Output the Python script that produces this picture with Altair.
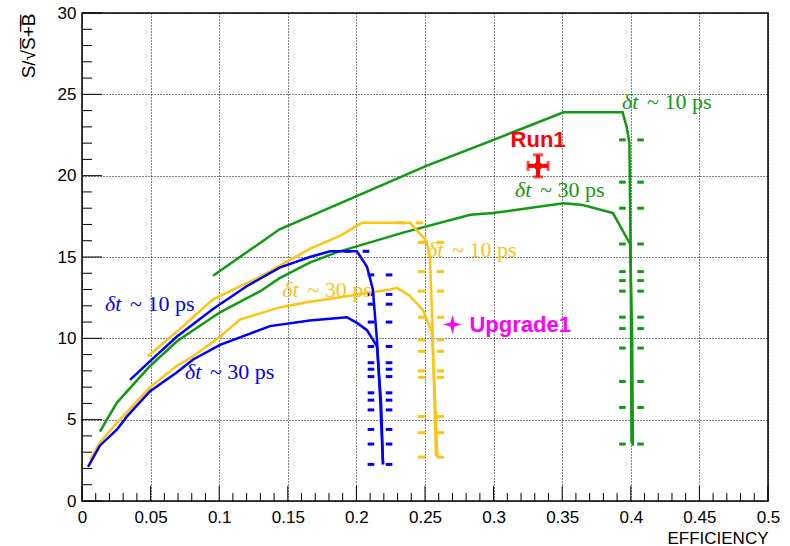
import altair as alt
import pandas as pd

GREEN = "#109a10"
YELLOW = "#ffc410"
BLUE = "#0000ff"
RED = "#ff0000"
MAGENTA = "#ff00ff"

W, H = 686, 488

# ---------------- curves (efficiency, S/sqrt(S+B)) ----------------
g10_x = [0.0955, 0.144, 0.188, 0.251, 0.300, 0.351, 0.365, 0.394, 0.397, 0.399, 0.3995, 0.400, 0.4005]
g10_y = [13.85, 16.7, 18.3, 20.6, 22.2, 23.9, 23.9, 23.9, 23.0, 22.0, 18.0, 14.0, 3.6]

g30_x = [0.013, 0.0255, 0.0496, 0.069, 0.1006, 0.130, 0.144, 0.166, 0.186, 0.234, 0.283, 0.300,
         0.351, 0.365, 0.387, 0.3995, 0.401, 0.4015]
g30_y = [4.27, 6.05, 8.3, 9.8, 11.6, 12.9, 13.7, 14.65, 15.3, 16.5, 17.6, 17.7,
         18.3, 18.2, 17.7, 15.8, 10.0, 3.4]

y10_x = [0.048, 0.069, 0.0955, 0.130, 0.166, 0.188, 0.204, 0.239, 0.251, 0.2536, 0.2555, 0.258]
y10_y = [8.9, 10.4, 12.4, 13.8, 15.5, 16.3, 17.1, 17.1, 16.0, 15.0, 10.5, 2.75]

y30_x = [0.006, 0.013, 0.0255, 0.0496, 0.069, 0.081, 0.1006, 0.115, 0.144, 0.166, 0.186, 0.2004,
         0.2245, 0.2296, 0.239, 0.2485, 0.255, 0.257, 0.259]
y30_y = [2.55, 3.6, 4.8, 7.0, 8.3, 8.9, 10.1, 11.15, 11.9, 12.25, 12.5, 12.7,
         13.0, 13.1, 12.6, 11.75, 10.4, 7.0, 2.7]

b10_x = [0.035, 0.0496, 0.069, 0.0955, 0.120, 0.144, 0.166, 0.181, 0.2004, 0.2077, 0.212, 0.215, 0.2175, 0.2194]
b10_y = [7.45, 8.6, 10.1, 11.8, 13.2, 14.35, 15.0, 15.35, 15.35, 14.4, 13.0, 9.9, 6.0, 2.25]

b30_x = [0.0044, 0.013, 0.0255, 0.0328, 0.0496, 0.069, 0.081, 0.1006, 0.137, 0.166, 0.193, 0.2004,
         0.2077, 0.215, 0.218, 0.2194]
b30_y = [2.1, 3.4, 4.4, 5.2, 6.75, 7.9, 8.7, 9.6, 10.75, 11.1, 11.3, 10.95,
         10.5, 9.5, 6.0, 2.25]

# ---------------- horizontal error bars on the steep part ----------------
gerr_y = [22.2, 19.6, 18.0, 15.8, 14.1, 13.55, 12.9, 11.3, 10.6, 9.4, 7.35, 5.75, 3.5]
gerr_x = [0.4005] * len(gerr_y)
gerr_ex = 0.0090

yerr_y = [17.1, 15.9, 14.1, 12.9, 11.3, 9.9, 9.2, 8.0, 7.6, 5.2, 4.2, 2.7]
yerr_x = [0.239] + [0.2544] * 11
yerr_ex = 0.0095

berr_y = [15.35, 13.9, 12.7, 12.1, 11.0, 9.5, 8.5, 8.1, 7.65, 6.65, 6.2, 5.6, 4.4, 3.5, 2.25]
berr_x = [0.2004] + [0.2172] * 14
berr_ex = 0.0090

# ---------------- single points ----------------
run1_x, run1_y, run1_ex, run1_ey = 0.3324, 20.6, 0.0073, 0.68
upg_x, upg_y = 0.270, 10.85

# ---------------- labels ----------------
lab_x = [0.3936, 0.3156, 0.2515, 0.146, 0.0168, 0.075]
lab_y = [24.5, 19.1, 15.45, 13.0, 12.1, 7.9]
lab_rest = ["~ 10 ps", "~ 30 ps", "~ 10 ps", "~ 30 ps", "~ 10 ps", "~ 30 ps"]
lab_col = [GREEN, GREEN, YELLOW, YELLOW, BLUE, BLUE]

x_major = [0, 0.05, 0.1, 0.15, 0.2, 0.25, 0.3, 0.35, 0.4, 0.45, 0.5]
x_minor = [round(i * 0.01, 2) for i in range(51) if i % 5 != 0]
y_major = [0, 5, 10, 15, 20, 25, 30]
y_minor = [i for i in range(31) if i % 5 != 0]

# ---------------- tables ----------------
series = [("g10", g10_x, g10_y), ("g30", g30_x, g30_y), ("y10", y10_x, y10_y),
          ("y30", y30_x, y30_y), ("b10", b10_x, b10_y), ("b30", b30_x, b30_y)]
cdom = ["g10", "g30", "y10", "y30", "b10", "b30"]
crng = [GREEN, GREEN, YELLOW, YELLOW, BLUE, BLUE]
rows = []
for name, xs, ys in series:
    for i, (xv, yv) in enumerate(zip(xs, ys)):
        rows.append({"curve": name, "i": i, "x": xv, "y": yv})
curves = pd.DataFrame(rows)

GAP = 0.0042
erows = []
for col, xs, ys, ex in [(GREEN, gerr_x, gerr_y, gerr_ex), (YELLOW, yerr_x, yerr_y, yerr_ex),
                        (BLUE, berr_x, berr_y, berr_ex)]:
    for xv, yv in zip(xs, ys):
        erows.append({"c": col, "x": xv - ex, "b": xv - GAP, "y": yv})
        erows.append({"c": col, "x": xv + GAP, "b": xv + ex, "y": yv})
errs = pd.DataFrame(erows)

labels = pd.DataFrame({"x": lab_x, "y": lab_y, "rest": lab_rest, "c": lab_col})

xs_ = alt.Scale(domain=[0, 0.5], nice=False, zero=False)
ys_ = alt.Scale(domain=[0, 30], nice=False, zero=False)

FONT = "Liberation Sans"

xaxis = alt.Axis(values=x_major, format="~g", grid=True, gridDash=[1, 2], gridColor="black",
                 gridWidth=1, ticks=False, domain=False, labelFont=FONT, labelFontSize=17,
                 labelColor="black", labelPadding=8, labelFlush=False, labelOverlap=False,
                 title="EFFICIENCY", titleFont=FONT, titleFontSize=17, titleFontWeight="normal",
                 titleColor="black", titleAnchor="end", titleAlign="right", titleX=W, titleY=37,
                 titleBaseline="middle")
yaxis = alt.Axis(values=y_major, format="d", grid=True, gridDash=[1, 2], gridColor="black",
                 gridWidth=1, ticks=False, domain=False, labelFont=FONT, labelFontSize=17,
                 labelColor="black", labelPadding=6, labelFlush=False, labelOverlap=False,
                 title="S/\u221aS\u0305+\u0305B\u0305", titleFont=FONT, titleFontSize=19,
                 titleFontWeight="normal", titleColor="black", titleAngle=270, titleAlign="right",
                 titleBaseline="middle", titleX=-54, titleY=0)


def X(field):
    return alt.X(field, scale=xs_, axis=xaxis)


def Y(field):
    return alt.Y(field, scale=ys_, axis=yaxis)


lines = alt.Chart(curves).mark_line(strokeWidth=2.5).encode(
    x=X("x:Q"), y=Y("y:Q"),
    color=alt.Color("curve:N", scale=alt.Scale(domain=cdom, range=crng), legend=None),
    order="i:Q",
)


def tick_layer(vals, is_x, length):
    if is_x:
        df = pd.DataFrame({"x": vals})
        return alt.Chart(df).mark_rule(color="black", strokeWidth=1).encode(
            x=X("x:Q"), y=alt.value(H), y2=alt.value(H - length))
    df = pd.DataFrame({"y": vals})
    return alt.Chart(df).mark_rule(color="black", strokeWidth=1).encode(
        y=Y("y:Q"), x=alt.value(0), x2=alt.value(length))


ticks = [tick_layer(x_major, True, 15), tick_layer(x_minor, True, 8),
         tick_layer(y_major, False, 20), tick_layer(y_minor, False, 10)]

errbars = alt.Chart(errs).mark_rule(strokeWidth=3).encode(
    x=X("x:Q"), x2="b:Q", y=Y("y:Q"), color=alt.Color("c:N", scale=None))

run_df = pd.DataFrame({"x": [run1_x], "y": [run1_y], "xl": [run1_x - run1_ex], "xh": [run1_x + run1_ex],
                       "yl": [run1_y - run1_ey], "yh": [run1_y + run1_ey]})
run_h = alt.Chart(run_df).transform_calculate(x="datum.xl").mark_rule(color=RED, strokeWidth=4).encode(
    x=X("x:Q"), x2="xh:Q", y=Y("y:Q"))
run_v = alt.Chart(run_df).transform_calculate(y="datum.yl").mark_rule(color=RED, strokeWidth=4).encode(
    y=Y("y:Q"), y2="yh:Q", x=X("x:Q"))
run_capx = alt.Chart(run_df).transform_fold(["xl", "xh"], as_=["k", "xx"]).transform_calculate(
    x="datum.xx").mark_tick(color=RED, thickness=3, size=10, orient="vertical").encode(
    x=X("x:Q"), y=Y("y:Q"))
run_capy = alt.Chart(run_df).transform_fold(["yl", "yh"], as_=["k", "yy"]).transform_calculate(
    y="datum.yy").mark_tick(color=RED, thickness=3, size=10, orient="horizontal").encode(
    y=Y("y:Q"), x=X("x:Q"))
run_pt = alt.Chart(run_df).mark_point(shape="square", filled=True, color=RED, size=40, opacity=1).encode(
    x=X("x:Q"), y=Y("y:Q"))
run_txt = alt.Chart(run_df).mark_text(text="Run1", font=FONT, fontSize=22, fontWeight="bold",
                                      color=RED, align="center", baseline="middle", dy=-26).encode(
    x=X("x:Q"), y=Y("y:Q"))

upg_df = pd.DataFrame({"x": [upg_x], "y": [upg_y]})
STAR = "M0,-1L0.22,-0.22L1,0L0.22,0.22L0,1L-0.22,0.22L-1,0L-0.22,-0.22Z"
upg_pt = alt.Chart(upg_df).mark_point(shape=STAR, filled=True, color=MAGENTA, size=340, opacity=1).encode(
    x=X("x:Q"), y=Y("y:Q"))
upg_txt = alt.Chart(upg_df).mark_text(text="Upgrade1", font=FONT, fontSize=22, fontWeight="bold",
                                      color=MAGENTA, align="left", baseline="middle", dx=17).encode(
    x=X("x:Q"), y=Y("y:Q"))

SERIF = "Liberation Serif"
lab_d = alt.Chart(labels).mark_text(text="\u03b4t", font=SERIF, fontSize=22, fontStyle="italic",
                                    align="left", baseline="middle").encode(
    x=X("x:Q"), y=Y("y:Q"), color=alt.Color("c:N", scale=None))
lab_r = alt.Chart(labels).mark_text(font=SERIF, fontSize=22, align="left", baseline="middle", dx=25).encode(
    x=X("x:Q"), y=Y("y:Q"), text="rest:N", color=alt.Color("c:N", scale=None))

chart = alt.layer(lines, *ticks, errbars, run_h, run_v, run_capx, run_capy, run_pt, run_txt,
                  upg_pt, upg_txt, lab_d, lab_r).properties(
    width=W, height=H,
    padding={"left": 82, "top": 13, "right": 22, "bottom": 45},
    autosize=alt.AutoSizeParams(type="none"),
    background="white",
).configure_view(stroke="black", strokeWidth=1.5)

chart.save("out.html", embed_options={"renderer": "svg", "actions": False})
